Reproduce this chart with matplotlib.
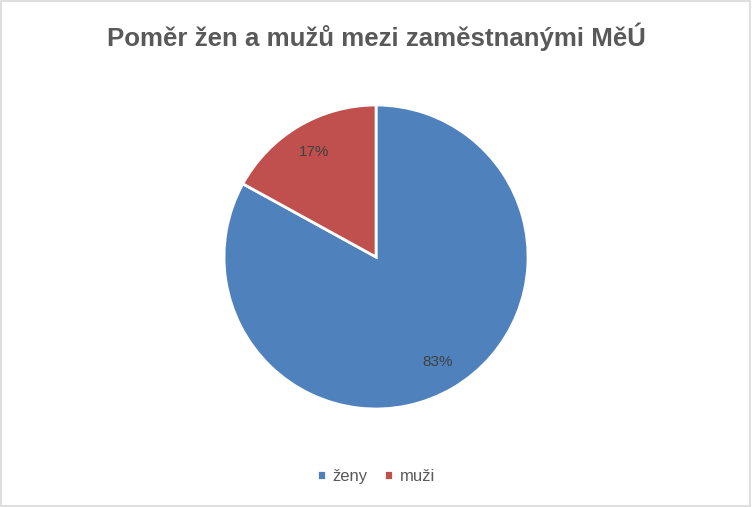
import matplotlib
matplotlib.use("Agg")
import matplotlib.pyplot as plt
from matplotlib.patches import Rectangle

# data
labels = ["ženy", "muži"]
shares = [83, 17]
colors = ["#4F81BD", "#C0504D"]
title = "Poměr žen a mužů mezi zaměstnanými MěÚ"

TXT = "#595959"
plt.rcParams["font.family"] = ["Liberation Sans", "DejaVu Sans"]

fig = plt.figure(figsize=(7.52, 5.07), dpi=100)
fig.patch.set_facecolor("white")
fig.patches.append(Rectangle((0.001, 0.002), 0.997, 0.996, transform=fig.transFigure,
                             fill=False, edgecolor="#D9D9D9", linewidth=1.2))

# pie axes sized so the disc sits where it does in the reference
ax = fig.add_axes([0.2979, 0.1933, 0.4043, 0.5996])
wedges, texts, autotexts = ax.pie(
    shares, colors=colors, startangle=90, counterclock=False,
    autopct="%d%%", pctdistance=0.8, radius=1.0,
    wedgeprops=dict(edgecolor="white", linewidth=2),
    textprops=dict(color="#404040", fontsize=11),
)
ax.set_xlim(-1, 1); ax.set_ylim(-1, 1)
ax.set_aspect("auto")
ax.axis("off")

fig.text(0.5, 0.927, title, ha="center", va="center", fontsize=18.6,
         fontweight="bold", color=TXT)

leg = fig.legend(wedges, labels, loc="center", bbox_to_anchor=(0.5, 0.061),
                 ncol=2, frameon=False, fontsize=12, handlelength=0.55,
                 handleheight=0.55, handletextpad=0.4, columnspacing=1.0)
for t in leg.get_texts():
    t.set_color(TXT)

fig.savefig("out.png", dpi=100, facecolor="white")
